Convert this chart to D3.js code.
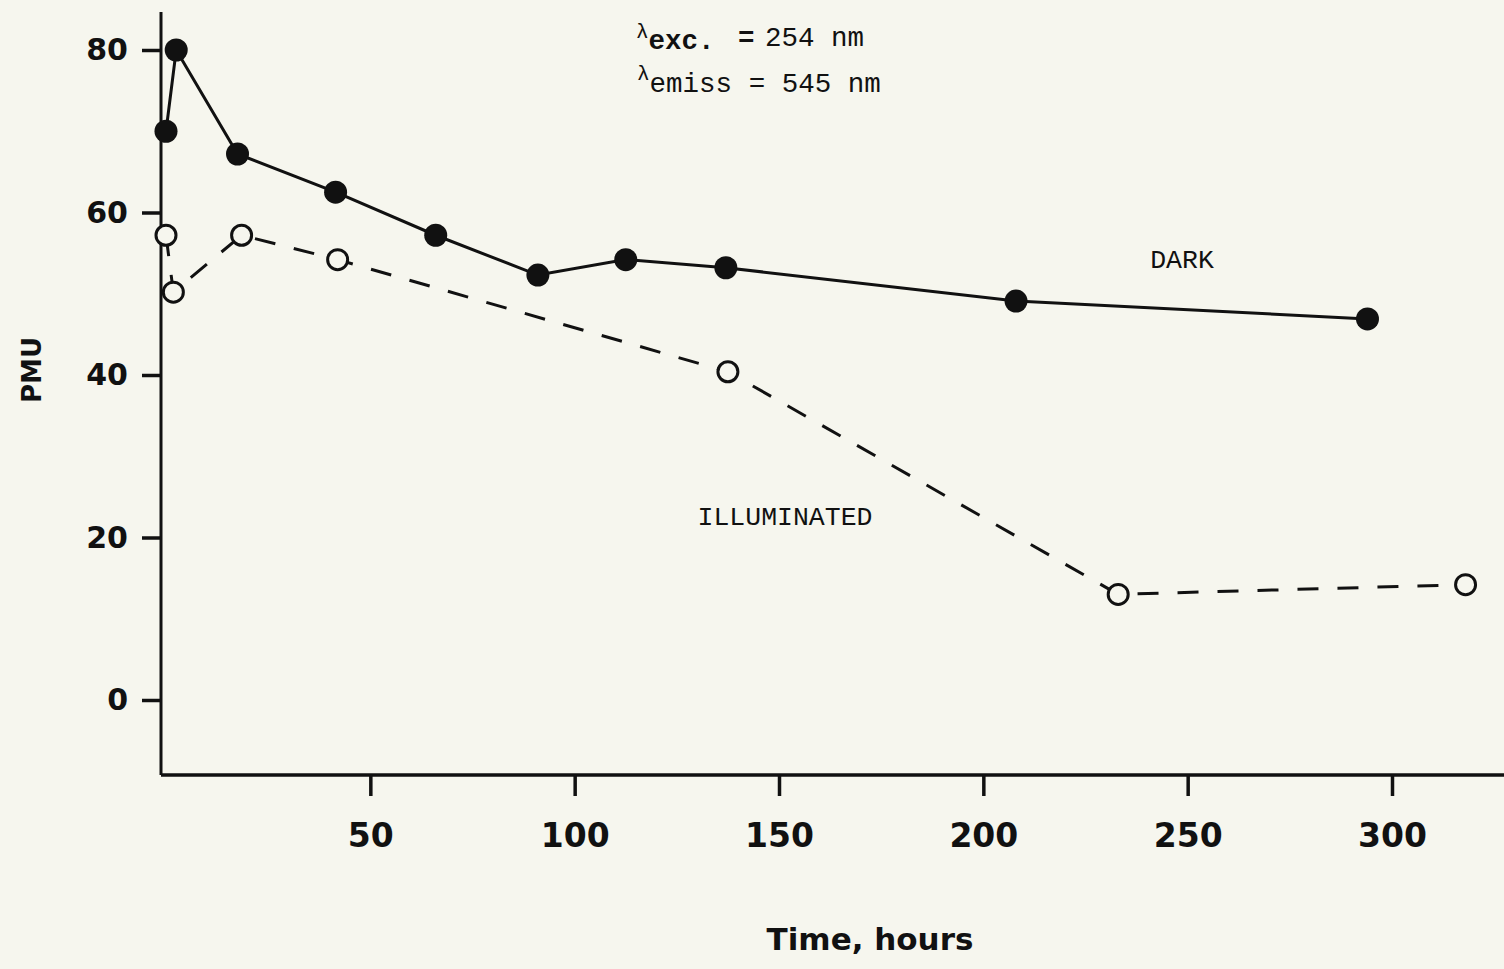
<!DOCTYPE html>
<html>
<head>
<meta charset="utf-8">
<script src="https://cdn.jsdelivr.net/npm/d3@7"></script>
<style>
  html, body { margin: 0; padding: 0; background: #f6f6ee; }
  svg { display: block; }
</style>
</head>
<body>
<script>
// Luminescence intensity (PMU) vs. exposure time, dark vs. illuminated samples
const darkHours = [0, 2.5, 17.5, 41.5, 66, 91, 112.5, 137, 208, 294];
const darkPMU   = [70, 80, 67.2, 62.5, 57.2, 52.3, 54.2, 53.2, 49.1, 46.9];

const illumHours = [0, 1.8, 18.5, 42, 137.5, 233, 318];
const illumPMU   = [57.2, 50.2, 57.2, 54.2, 40.4, 13.0, 14.2];

const xTicks = [50, 100, 150, 200, 250, 300];
const yTicks = [0, 20, 40, 60, 80];

const W = 1504, H = 969;
const bg = "#f6f6ee", ink = "#111";

const svg = d3.select("body").append("svg")
  .attr("width", W).attr("height", H);

svg.append("rect").attr("width", W).attr("height", H).attr("fill", bg);

const x = d3.scaleLinear().domain([0, 300]).range([166, 1392]);
const y = d3.scaleLinear().domain([0, 80]).range([700, 50]);

const xMin = x.invert(161), xMax = x.invert(W);
const yMin = y.invert(775), yMax = y.invert(12);

// axis lines
svg.append("line")
  .attr("x1", x(xMin)).attr("x2", x(xMax))
  .attr("y1", y(yMin)).attr("y2", y(yMin))
  .attr("stroke", ink).attr("stroke-width", 3.5);
svg.append("line")
  .attr("x1", x(xMin)).attr("x2", x(xMin))
  .attr("y1", y(yMin)).attr("y2", y(yMax))
  .attr("stroke", ink).attr("stroke-width", 3);

// x axis ticks
const xAxis = d3.axisBottom(x).tickValues(xTicks).tickSize(21).tickPadding(27)
  .tickFormat(d3.format("d"));
const gx = svg.append("g").attr("transform", `translate(0,${y(yMin)})`).call(xAxis);
gx.select(".domain").remove();
gx.selectAll(".tick line").attr("stroke", ink).attr("stroke-width", 3.5);
gx.selectAll(".tick text")
  .attr("fill", ink)
  .attr("font-family", "DejaVu Sans")
  .attr("font-weight", "bold")
  .attr("font-size", 33)
  .attr("dy", "0.72em");

// y axis ticks
const yAxis = d3.axisLeft(y).tickValues(yTicks).tickSize(19).tickPadding(14)
  .tickFormat(d3.format("d"));
const gy = svg.append("g").attr("transform", `translate(${x(xMin)},0)`).call(yAxis);
gy.select(".domain").remove();
gy.selectAll(".tick line").attr("stroke", ink).attr("stroke-width", 3.5);
gy.selectAll(".tick text")
  .attr("fill", ink)
  .attr("font-family", "DejaVu Sans")
  .attr("font-weight", "bold")
  .attr("font-size", 30);

// axis titles
svg.append("text")
  .attr("x", 870).attr("y", 950)
  .attr("text-anchor", "middle")
  .attr("font-family", "DejaVu Sans").attr("font-weight", "bold")
  .attr("font-size", 31).attr("fill", ink)
  .text("Time, hours");

svg.append("text")
  .attr("transform", "translate(41,370) rotate(-90)")
  .attr("text-anchor", "middle")
  .attr("font-family", "DejaVu Sans").attr("font-weight", "bold")
  .attr("font-size", 26).attr("fill", ink)
  .text("PMU");

// series
const dark = darkHours.map((h, i) => ({ h, v: darkPMU[i] }));
const illum = illumHours.map((h, i) => ({ h, v: illumPMU[i] }));

const line = d3.line().x(d => x(d.h)).y(d => y(d.v));

svg.append("path").datum(illum)
  .attr("d", line).attr("fill", "none")
  .attr("stroke", ink).attr("stroke-width", 3)
  .attr("stroke-dasharray", "21,19");

svg.append("path").datum(dark)
  .attr("d", line).attr("fill", "none")
  .attr("stroke", ink).attr("stroke-width", 3);

svg.selectAll("circle.dark").data(dark).enter().append("circle")
  .attr("class", "dark")
  .attr("cx", d => x(d.h)).attr("cy", d => y(d.v))
  .attr("r", 11.5).attr("fill", ink);

svg.selectAll("circle.illum").data(illum).enter().append("circle")
  .attr("class", "illum")
  .attr("cx", d => x(d.h)).attr("cy", d => y(d.v))
  .attr("r", 10).attr("fill", bg)
  .attr("stroke", ink).attr("stroke-width", 3);

// series labels
const mono = "Liberation Mono";
svg.append("text").attr("x", 1182).attr("y", 268)
  .attr("text-anchor", "middle").attr("font-family", mono)
  .attr("font-size", 26.5).attr("fill", ink).text("DARK");
svg.append("text").attr("x", 785).attr("y", 525)
  .attr("text-anchor", "middle").attr("font-family", mono)
  .attr("font-size", 26.5).attr("fill", ink).text("ILLUMINATED");

// wavelength annotation
const ann = svg.append("g").attr("font-family", mono).attr("fill", ink);
const t1 = ann.append("text").attr("x", 636).attr("y", 46).attr("font-size", 27.5);
t1.append("tspan").attr("font-size", 21).attr("dy", -8).text("λ");
t1.append("tspan").attr("font-weight", "bold").attr("dy", 11).text("exc.");
ann.append("text").attr("x", 738).attr("y", 46).attr("font-size", 27.5)
  .attr("font-weight", "bold").text("=");
ann.append("text").attr("x", 765).attr("y", 46).attr("font-size", 27.5).text("254 nm");

const t2 = ann.append("text").attr("x", 637).attr("y", 80).attr("font-size", 27.5);
t2.append("tspan").attr("font-size", 21).text("λ");
t2.append("tspan").attr("dy", 12).text("emiss = 545 nm");
</script>
</body>
</html>
